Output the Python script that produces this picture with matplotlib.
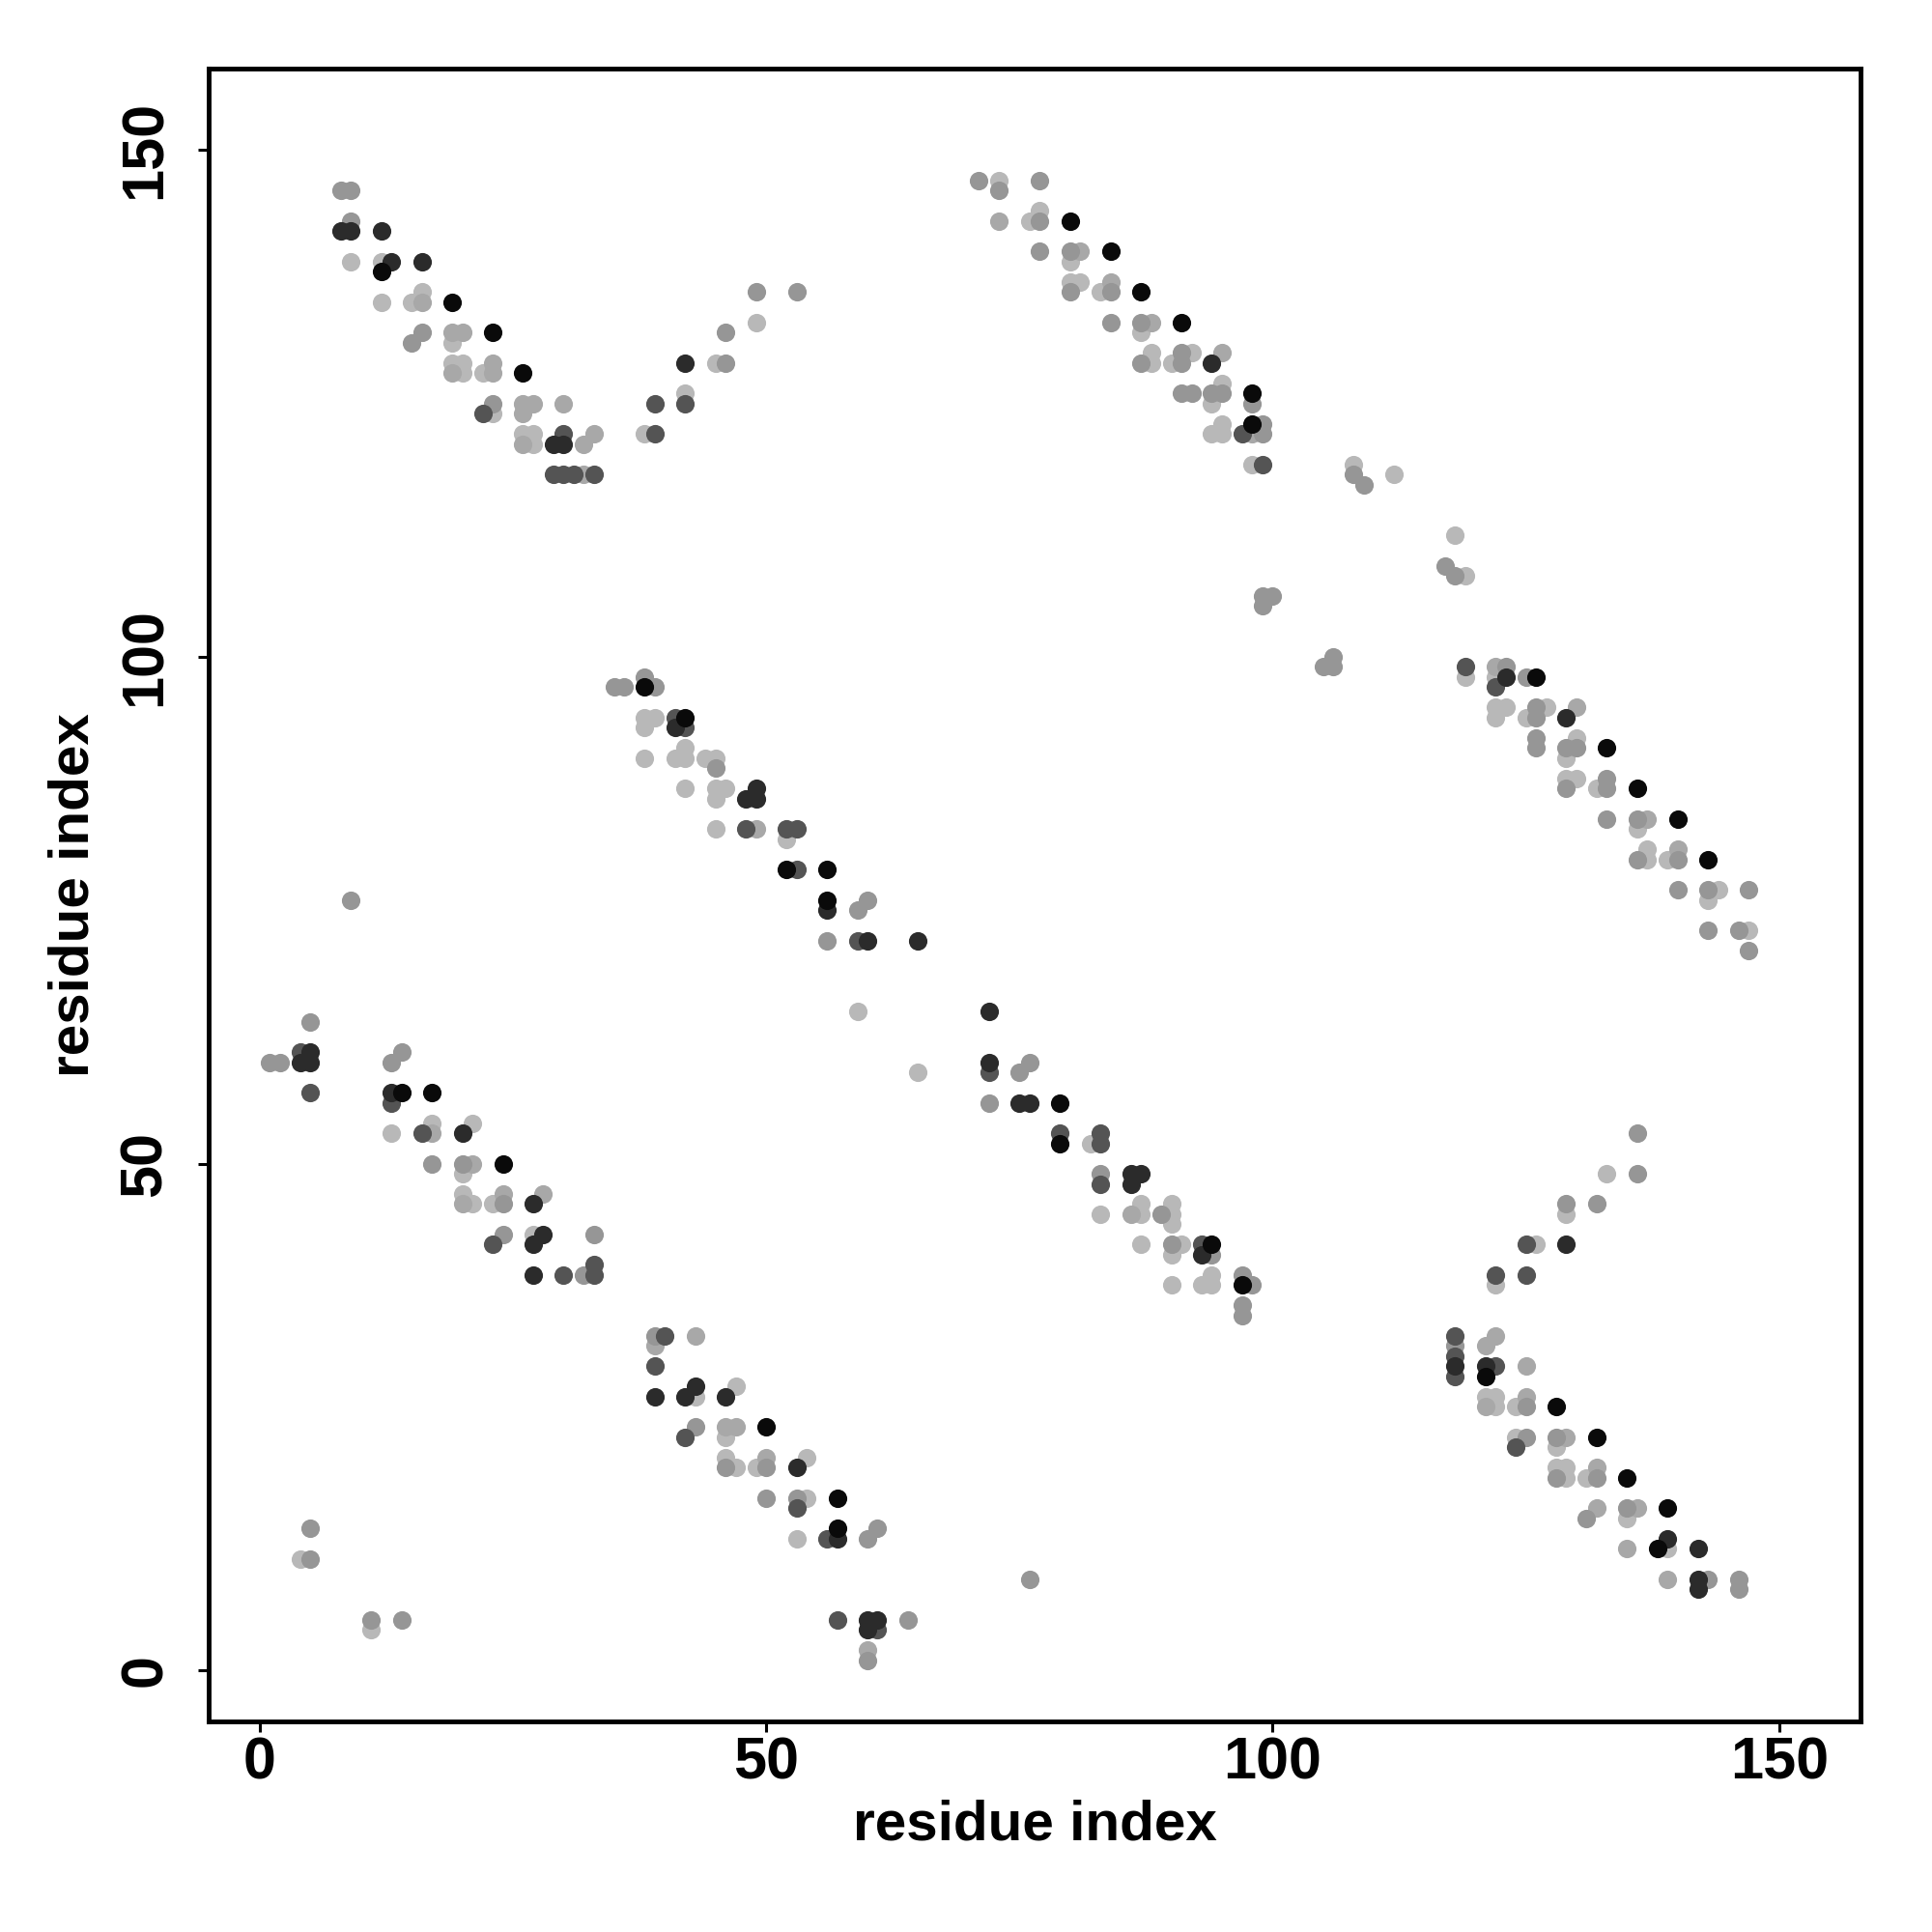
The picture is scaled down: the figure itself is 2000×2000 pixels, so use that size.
import matplotlib
matplotlib.use("Agg")
import matplotlib.pyplot as plt

# Contact map: residue pairs (i, j), grouped by shade of grey
black_pts = [
    (12, 138), (19, 135), (23, 132), (26, 128), (80, 143), (84, 140), (87, 136),
    (91, 133), (98, 126), (98, 123), (126, 98), (133, 91), (136, 87), (140, 84),
    (143, 80), (38, 97), (42, 94), (52, 79), (56, 79), (56, 76), (14, 57),
    (17, 57), (24, 50), (79, 56), (79, 52), (94, 42), (97, 38), (50, 24),
    (57, 17), (57, 14), (121, 29), (128, 26), (132, 23), (135, 19), (139, 16),
    (138, 12),
]
dark_pts = [
    (8, 142), (9, 142), (12, 142), (13, 139), (16, 139), (29, 121), (30, 121),
    (42, 129), (94, 129), (123, 98), (129, 94), (41, 93), (49, 87), (48, 86),
    (49, 86), (56, 75), (60, 72), (65, 72), (5, 61), (4, 60), (5, 60), (13, 57),
    (20, 53), (27, 46), (28, 43), (27, 42), (27, 39), (72, 65), (72, 60),
    (75, 56), (76, 56), (86, 49), (87, 49), (86, 48), (93, 41), (43, 28),
    (39, 27), (42, 27), (46, 27), (53, 20), (57, 13), (60, 5), (61, 5), (60, 4),
    (129, 42), (118, 30), (121, 30), (139, 13), (142, 12), (142, 9), (142, 8),
]
darkmid_pts = [
    (22, 124), (30, 122), (29, 118), (30, 118), (31, 118), (33, 118), (39, 125),
    (42, 125), (39, 122), (97, 122), (99, 119), (119, 99), (122, 97), (41, 94),
    (42, 93), (48, 83), (52, 83), (53, 83), (53, 79), (59, 72), (4, 61), (5, 57),
    (13, 56), (16, 53), (23, 42), (33, 40), (30, 39), (33, 39), (72, 59),
    (79, 53), (83, 53), (83, 52), (83, 48), (93, 42), (40, 33), (39, 30),
    (42, 23), (53, 16), (56, 13), (57, 5), (61, 4), (125, 42), (122, 39),
    (125, 39), (118, 33), (118, 31), (122, 30), (118, 29), (124, 22),
]
mid_pts = [
    (8, 146), (9, 146), (9, 143), (16, 132), (15, 131), (23, 125), (49, 136),
    (53, 136), (46, 132), (46, 129), (71, 147), (77, 147), (73, 146), (77, 143),
    (77, 140), (80, 140), (80, 136), (84, 136), (84, 133), (87, 133), (91, 130),
    (87, 129), (91, 129), (91, 126), (92, 126), (94, 126), (95, 126), (98, 125),
    (99, 123), (99, 122), (108, 118), (109, 117), (117, 109), (118, 108),
    (99, 105), (99, 106), (100, 106), (106, 100), (106, 99), (105, 99),
    (123, 99), (125, 98), (126, 95), (126, 94), (126, 92), (126, 91), (129, 91),
    (130, 91), (133, 88), (129, 87), (133, 87), (133, 84), (136, 84), (136, 80),
    (140, 80), (140, 77), (143, 77), (147, 77), (143, 73), (146, 73), (147, 71),
    (38, 98), (35, 97), (36, 97), (39, 97), (45, 89), (60, 76), (59, 75),
    (56, 72), (9, 76), (76, 9), (5, 64), (14, 61), (1, 60), (2, 60), (13, 60),
    (17, 50), (20, 50), (24, 46), (24, 43), (33, 43), (32, 39), (76, 60),
    (75, 59), (72, 56), (83, 49), (89, 45), (90, 42), (94, 41), (97, 39),
    (98, 38), (97, 36), (97, 35), (39, 33), (43, 24), (46, 20), (50, 20),
    (50, 17), (53, 17), (61, 14), (60, 13), (64, 5), (60, 1), (136, 53),
    (136, 49), (129, 46), (132, 46), (118, 32), (125, 26), (125, 23), (128, 23),
    (128, 19), (132, 19), (135, 16), (131, 15), (143, 9), (146, 9), (146, 8),
    (5, 14), (5, 11), (11, 5), (14, 5),
]
midlight_pts = [
    (16, 135), (19, 132), (20, 132), (23, 129), (19, 128), (23, 128), (26, 125),
    (27, 125), (30, 125), (26, 124), (33, 122), (26, 121), (32, 121), (32, 118),
    (73, 143), (81, 140), (84, 137), (88, 133), (95, 130), (98, 122), (122, 99),
    (130, 95), (137, 84), (140, 81), (49, 83), (17, 53), (21, 50), (24, 47),
    (28, 47), (20, 46), (86, 45), (43, 33), (39, 32), (46, 24), (47, 24),
    (50, 21), (60, 2), (122, 33), (121, 32), (125, 30), (125, 27), (121, 26),
    (129, 23), (132, 20), (132, 16), (136, 16), (135, 12), (139, 9),
]
light_pts = [
    (9, 139), (12, 139), (16, 136), (12, 135), (15, 135), (19, 131), (19, 129),
    (20, 129), (20, 128), (22, 128), (23, 124), (26, 122), (27, 122), (27, 121),
    (49, 133), (45, 129), (42, 126), (38, 122), (73, 147), (77, 144), (76, 143),
    (80, 139), (80, 137), (81, 137), (83, 136), (87, 132), (88, 130), (92, 130),
    (88, 129), (90, 129), (95, 127), (94, 125), (95, 123), (94, 122), (95, 122),
    (98, 119), (108, 119), (112, 118), (118, 112), (119, 108), (119, 98),
    (122, 98), (122, 95), (123, 95), (127, 95), (122, 94), (125, 94), (130, 92),
    (129, 90), (129, 88), (130, 88), (132, 87), (136, 83), (137, 81), (137, 80),
    (139, 80), (144, 77), (143, 76), (147, 73), (38, 94), (39, 94), (38, 93),
    (42, 91), (38, 90), (41, 90), (42, 90), (44, 90), (45, 90), (42, 87),
    (45, 87), (46, 87), (45, 86), (45, 83), (52, 82), (59, 65), (65, 59),
    (17, 54), (21, 54), (13, 53), (20, 49), (20, 47), (21, 46), (23, 46),
    (27, 43), (82, 52), (87, 46), (90, 46), (83, 45), (87, 45), (90, 45),
    (90, 44), (87, 42), (91, 42), (90, 41), (94, 39), (90, 38), (93, 38),
    (94, 38), (47, 28), (43, 27), (46, 23), (46, 21), (54, 21), (47, 20),
    (49, 20), (54, 17), (53, 13), (133, 49), (129, 45), (126, 42), (122, 38),
    (121, 27), (122, 27), (122, 26), (124, 26), (124, 23), (128, 22), (128, 20),
    (129, 20), (129, 19), (131, 19), (135, 15), (139, 12), (4, 11), (11, 4),
]

shades = [
    (light_pts, 0.72),
    (midlight_pts, 0.66),
    (mid_pts, 0.59),
    (darkmid_pts, 0.33),
    (dark_pts, 0.17),
    (black_pts, 0.04),
]

ticks = [0, 50, 100, 150]

plt.rcParams['font.family'] = ['Liberation Sans', 'DejaVu Sans']
plt.rcParams['font.weight'] = 'bold'

fig = plt.figure(figsize=(20, 20), dpi=100)
ax = fig.add_axes([0.108, 0.109, 0.855, 0.8555])

for pts, g in shades:
    xs = [p[0] for p in pts]
    ys = [p[1] for p in pts]
    ax.scatter(xs, ys, s=190, color=str(g), linewidths=0, zorder=3)

ax.set_xlim(-5.04, 158.04)
ax.set_ylim(-5.04, 158.04)

ax.set_xticks(ticks)
ax.set_yticks(ticks)
ax.set_xticklabels([str(t) for t in ticks], fontsize=44, fontweight='bold')
ax.set_yticklabels([str(t) for t in ticks], fontsize=44, fontweight='bold',
                   rotation=90, va='center')
ax.tick_params(axis='both', direction='out', length=8, width=2.2)
ax.tick_params(axis='x', pad=3)
ax.tick_params(axis='y', pad=18)

for sp in ax.spines.values():
    sp.set_linewidth(3.5)

ax.set_xlabel('residue index', fontsize=42, fontweight='bold', labelpad=6)
ax.set_ylabel('residue index', fontsize=42, fontweight='bold', labelpad=14)

fig.savefig('out.png', dpi=100)
